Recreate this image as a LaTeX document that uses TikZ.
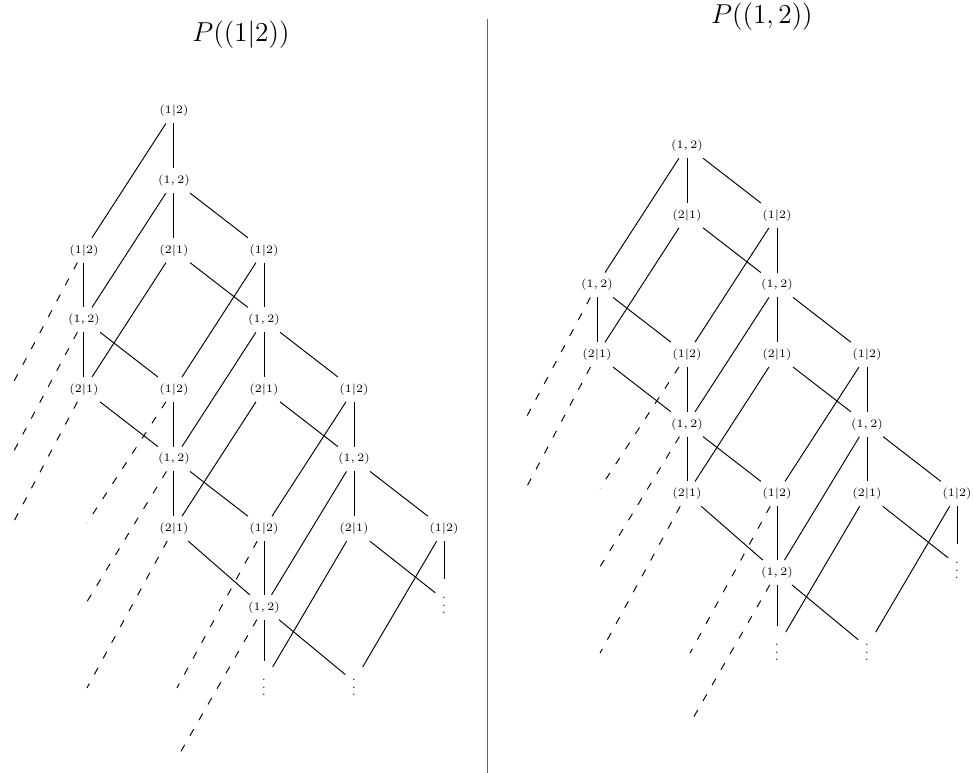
\documentclass[tikz,border=0pt]{standalone}

\begin{document}
\begin{tikzpicture}[
    x=1.665cm,
    y=-1.2876cm,
    lab/.style={font=\fontsize{6}{7}\selectfont},
    title/.style={font=\fontsize{14.4}{17}\selectfont},
    link/.style={line width=0.5pt},
    loose/.style={line width=0.5pt, dash pattern=on 4pt off 5.5pt},
    rule/.style={draw=black!60, line width=0.5pt}
]
    \useasboundingbox (-0.933,-1.595) rectangle (9.878,9.511);

    % Titles
    \node[title] (title l) at (1.744,-1.092) {$P((1|2))$};
    \node[title] (title r) at (7.533,-1.351) {$P((1,2))$};

    % Separator
    \coordinate (sep top) at (4.486,-1.322);
    \coordinate (sep bot) at (4.486,9.511);
    \draw[rule] (sep top) -- (sep bot);

    % Common lattice, once per panel
    \foreach \p/\dx/\dy in {l/0/0, r/5.7/-0.5} {
    \begin{scope}[shift={(\dx,\dy)}, name prefix=\p-]
        \foreach \n/\x/\y/\lbl in {11/1/1/{(1,2)},
                21/1/2/{(2|1)}, 22/2/2/{(1|2)},
                30/0/3/{(1,2)}, 32/2/3/{(1,2)},
                40/0/4/{(2|1)}, 41/1/4/{(1|2)}, 42/2/4/{(2|1)}, 43/3/4/{(1|2)},
                51/1/5/{(1,2)}, 53/3/5/{(1,2)},
                61/1/6/{(2|1)}, 62/2/6/{(1|2)}, 63/3/6/{(2|1)}, 64/4/6/{(1|2)},
                72/2/7.13/{(1,2)}, 74/4/7.02/{\vdots},
                82/2/8.2/{\vdots}, 83/3/8.2/{\vdots}}
            \node[lab] (n\n) at (\x,\y) {$\lbl$};

        \foreach \a/\b in {11/21, 11/22, 11/30, 21/40, 21/32, 22/32, 22/41,
                30/40, 30/41, 32/42, 32/43, 32/51, 40/51, 41/51,
                42/53, 42/61, 43/53, 43/62, 51/61, 51/62,
                53/63, 53/64, 53/72, 61/72, 62/72,
                63/74, 63/82, 64/74, 64/83, 72/82, 72/83}
            \draw[link] (n\a) -- (n\b);

        % Open ends
        \foreach \n/\x/\y in {30/-0.789/4.91, 40/-0.789/5.92,
                41/0.033/5.92, 51/0.033/7.05, 61/0.033/8.29,
                62/1.033/8.29, 72/1.033/9.30} {
            \coordinate (e\n) at (\x,\y);
            \draw[loose] (n\n) -- (e\n);
        }
    \end{scope}
    }

    % Extra nodes of the left panel
    \node[lab] (l-n01) at (1,0) {$(1|2)$};
    \node[lab] (l-n20) at (0,2) {$(1|2)$};
    \coordinate (l-e20) at (-0.789,3.91);

    \draw[link] (l-n01) -- (l-n11);
    \draw[link] (l-n01) -- (l-n20);
    \draw[link] (l-n20) -- (l-n30);
    \draw[loose] (l-n20) -- (l-e20);

\end{tikzpicture}
\end{document}
